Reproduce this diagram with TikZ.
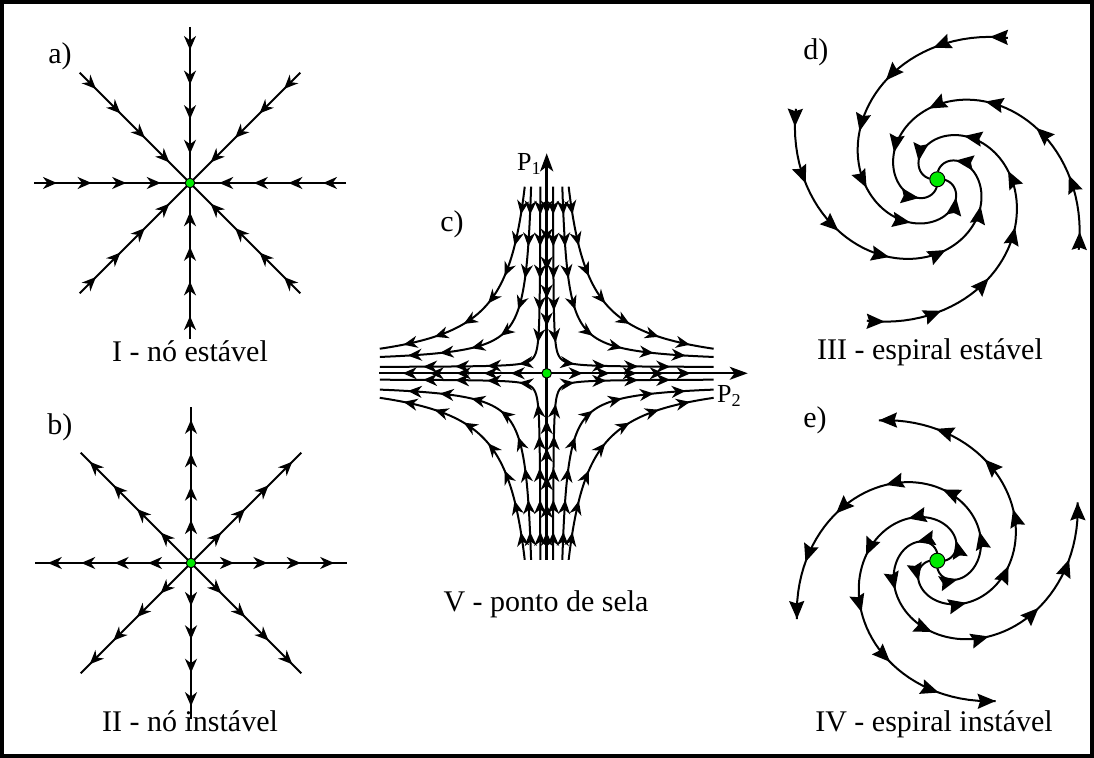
\documentclass[tikz,border=0pt]{standalone}
\usepackage{fontspec}
\setmainfont{Liberation Serif}
\usetikzlibrary{arrows.meta,decorations.markings}
\definecolor{dotgreen}{RGB}{0,235,0}

\tikzset{
  flowtip/.tip={Stealth[length=7pt,width=6pt,inset=2.2pt]},
  swirltip/.tip={Stealth[length=9pt,width=7.5pt,inset=1.2pt]},
  traj/.style={line width=1pt},
  fixpt/.style={circle, draw=black, line width=0.5pt, fill=dotgreen,
                inner sep=0pt, minimum size=4.8pt},
  bigfixpt/.style={fixpt, minimum size=7.5pt},
  lbl/.style={anchor=base west, inner sep=0pt, font=\fontsize{15pt}{18pt}\selectfont},
  caption/.style={anchor=base, inner sep=0pt, font=\fontsize{15pt}{18pt}\selectfont},
  axlbl/.style={anchor=base west, inner sep=0pt, font=\fontsize{13pt}{15pt}\selectfont},
  marks/.style n args={3}{postaction={decorate}, decoration={markings,
    mark=between positions #1 and #2 step #3 with {\arrow{flowtip}}}},
  sink ray/.style={traj, marks={11.5pt}{67pt}{17.3pt}},
  source ray/.style={traj, marks={21.5pt}{74pt}{16.7pt}},
  flow/.style={traj, marks={14pt}{-10pt}{16pt}},
  spiral in/.style={traj, postaction={decorate}, decoration={markings,
    mark=between positions 9pt and -5pt step 29pt with {\arrow{swirltip}}}},
  spiral out/.style={traj, postaction={decorate}, decoration={markings,
    mark=between positions 0pt and -5pt step 29pt with {\arrowreversed{swirltip}}}}
}

\begin{document}
\begin{tikzpicture}[x=0.5pt, y=0.5pt]
  \useasboundingbox (0,0) rectangle (1094,758);
  \draw[line width=2pt] (2,2) rectangle (1092,756);

  % a) stable node
  \coordinate (oa) at (190,575);
  \foreach \ang in {0,45,...,315}
    \draw[sink ray] ([shift={(\ang:156)}]oa) -- (oa);
  \node[fixpt] (pa) at (oa) {};
  \node[lbl] (la) at (48,694) {a)};
  \node[caption] (ca) at (190,396) {I - nó estável};

  % b) unstable node
  \coordinate (ob) at (191,195);
  \foreach \ang in {0,45,...,315}
    \draw[source ray] (ob) -- ([shift={(\ang:156)}]ob);
  \node[fixpt] (pb) at (ob) {};
  \node[lbl] (lb) at (47,323) {b)};
  \node[caption] (cb) at (190,26) {II - nó instável};

  % c) saddle
  \begin{scope}[shift={(546.7,384.7)}]
    \foreach \sx/\sy in {-1/1,1/1,-1/-1,1/-1}{
      \foreach \a/\s in {0/64,10/31.5,6/8.37}{
        \pgfmathsetmacro\uA{-ln((186.6-\a)/\s)}
        \pgfmathsetmacro\uB{ln((167-\a)/\s)}
        \draw[flow] plot[domain=\uA:\uB, samples=70, variable=\u]
          ({\sx*(\a+\s*exp(\u))},{\sy*(\a+\s*exp(-\u))});
      }
    }
    % P2 axis
    \draw[traj, marks={18pt}{76pt}{13.5pt}] (0,0) -- (-168,0);
    \draw[traj, marks={18pt}{76pt}{13.5pt}, -{Stealth[length=9pt,width=6.5pt,inset=2.4pt]}]
      (0,0) -- (201,0);
    % P1 axis
    \draw[traj, line width=1.5pt, marks={14pt}{-10pt}{14pt}] (0,186.7) -- (0,0);
    \draw[traj, line width=1.5pt, marks={14pt}{-10pt}{14pt}] (0,-186.7) -- (0,0);
    \draw[traj, line width=1.5pt, -{Stealth[length=9pt,width=6.5pt,inset=2.4pt]}]
      (0,186) -- (0,220);
    \node[fixpt] (pc) at (0,0) {};
    \node[axlbl] (p1) at (-30,202.3) {P\textsubscript{1}};
    \node[axlbl] (p2) at (170,-29.7) {P\textsubscript{2}};
  \end{scope}
  \node[lbl] (lc) at (440,526.5) {c)};
  \node[caption] (cc) at (546,146) {V - ponto de sela};

  % d) stable spiral
  \begin{scope}[shift={(937.3,578.7)}]
    \foreach \p in {63.5,153.5,243.5,333.5}
      \draw[spiral in] plot[domain=0:5.1, samples=90, variable=\t]
        ({\p+deg(\t)}:{158*exp(-0.37*\t)*(1-(\t/5.3)^10)});
    \node[bigfixpt] (pd) at (0,0) {};
  \end{scope}
  \node[lbl] (ld) at (803,698) {d)};
  \node[caption] (cd) at (930,398) {III - espiral estável};

  % e) unstable spiral
  \begin{scope}[shift={(937.3,197.3)}]
    \foreach \p in {22.6,112.6,202.6,292.6}
      \draw[spiral out] plot[domain=0:5.1, samples=90, variable=\t]
        ({\p-deg(\t)}:{152*exp(-0.37*\t)*(1-(\t/5.3)^10)});
    \node[bigfixpt] (pe) at (0,0) {};
  \end{scope}
  \node[lbl] (le) at (803,330) {e)};
  \node[caption] (ce) at (934,26) {IV - espiral instável};
\end{tikzpicture}
\end{document}
